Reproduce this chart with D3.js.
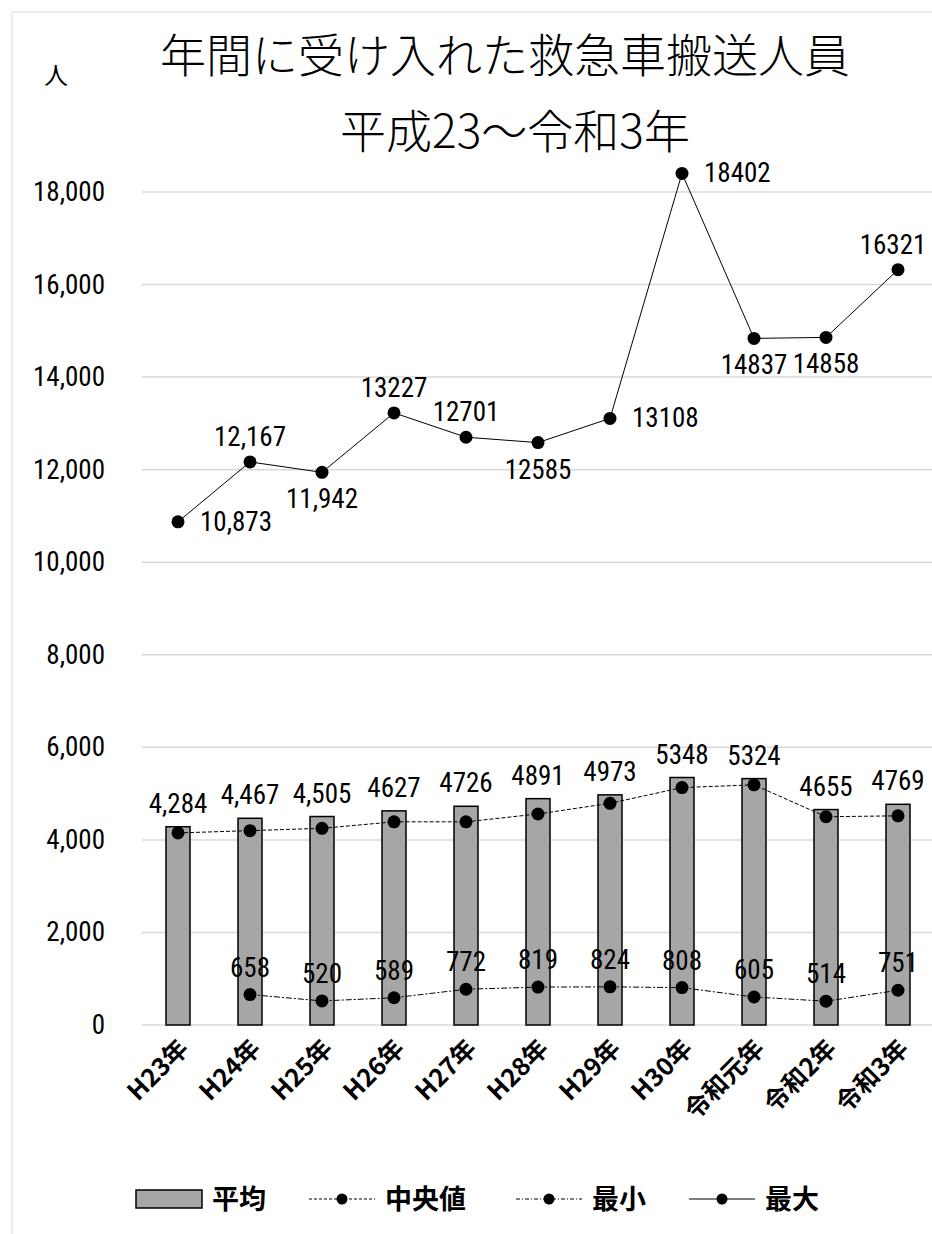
<!DOCTYPE html>
<html><head><meta charset="utf-8">
<script src="https://cdn.jsdelivr.net/npm/d3@7"></script>
<style>body{margin:0;background:#fff}text{font-family:"Noto Sans CJK JP","Noto Sans",sans-serif}.num{font-family:"Liberation Sans Narrow","Roboto Condensed","Noto Sans",sans-serif}</style>
</head><body><div id="chart"></div>
<script>
const years = ["H23年","H24年","H25年","H26年","H27年","H28年","H29年","H30年","令和元年","令和2年","令和3年"];
const meanVals = [4284,4467,4505,4627,4726,4891,4973,5348,5324,4655,4769];
const meanLabels = ["4,284","4,467","4,505","4627","4726","4891","4973","5348","5324","4655","4769"];
const medianVals = [4150,4200,4250,4390,4390,4560,4790,5130,5190,4500,4520];
const minVals = [null,658,520,589,772,819,824,808,605,514,751];
const maxVals = [10873,12167,11942,13227,12701,12585,13108,18402,14837,14858,16321];
const maxLabels = ["10,873","12,167","11,942","13227","12701","12585","13108","18402","14837","14858","16321"];
const maxPos = ["right","above","below","above","above","below","right","right","below","below","above"];
const yTicks = [0,2000,4000,6000,8000,10000,12000,14000,16000,18000];

const W = 932, H = 1234;
const svg = d3.select("#chart").append("svg").attr("width", W).attr("height", H);
svg.append("path").attr("d","M12,1234V12H932").attr("fill","none").attr("stroke","#d9d9d9");

const x = d3.scaleBand().domain(years).range([142, 934]);
const y = d3.scaleLinear().domain([0, 18000]).range([1025, 192]);
const cx = d => x(d) + x.bandwidth() / 2;
const FS = 27;

svg.append("g").selectAll("line").data(yTicks).join("line")
  .attr("x1", 142).attr("x2", 934).attr("y1", d => y(d)).attr("y2", d => y(d))
  .attr("stroke", "#d9d9d9").attr("stroke-width", 1.5);

svg.append("g").selectAll("text").data(yTicks).join("text").attr("class","num")
  .attr("x", 105).attr("y", d => y(d) + 9).attr("text-anchor", "end")
  .attr("font-size", FS).text(d3.format(","));

svg.append("text").attr("x", 56).attr("y", 84).attr("text-anchor","middle").attr("font-size", 24).text("人");
svg.append("text").attr("x", 505).attr("y", 72).attr("text-anchor","middle").attr("font-size", 46).attr("font-weight", 300).text("年間に受け入れた救急車搬送人員");
svg.append("text").attr("x", 515).attr("y", 148).attr("text-anchor","middle").attr("font-size", 46).attr("font-weight", 300).text("平成23〜令和3年");

// bars
const bw = 24;
svg.append("g").selectAll("rect").data(meanVals).join("rect")
  .attr("x", (d,i) => cx(years[i]) - bw/2).attr("y", d => y(d))
  .attr("width", bw).attr("height", d => y(0) - y(d))
  .attr("fill", "#a6a6a6").attr("stroke", "#000").attr("stroke-width", 1.5);
svg.append("g").selectAll("text").data(meanLabels).join("text").attr("class","num")
  .attr("x", (d,i) => cx(years[i])).attr("y", (d,i) => y(meanVals[i]) - 14)
  .attr("text-anchor","middle").attr("font-size", FS).text(d => d);

function series(vals, dash, width) {
  const pts = vals.map((v,i) => ({x: cx(years[i]), v})).filter(p => p.v != null);
  svg.append("path").datum(pts)
    .attr("d", d3.line().x(p => p.x).y(p => y(p.v)))
    .attr("fill","none").attr("stroke","#000").attr("stroke-width", width)
    .attr("stroke-dasharray", dash);
  svg.append("g").selectAll("circle").data(pts).join("circle")
    .attr("cx", p => p.x).attr("cy", p => y(p.v)).attr("r", 6.5).attr("fill","#000");
  return pts;
}
series(medianVals, "4,2", 1);
const minPts = series(minVals, "6,2,2,2", 1);
svg.append("g").selectAll("text").data(minPts).join("text").attr("class","num")
  .attr("x", p => p.x).attr("y", p => y(p.v) - 18).attr("text-anchor","middle")
  .attr("font-size", FS).text(p => p.v);
series(maxVals, null, 1);
svg.append("g").selectAll("text").data(maxLabels).join("text").attr("class","num")
  .attr("x", (d,i) => maxPos[i] === "right" ? cx(years[i]) + 22 : Math.min(cx(years[i]), 893))
  .attr("y", (d,i) => {
    const py = y(maxVals[i]);
    return maxPos[i] === "above" ? py - 16 : maxPos[i] === "below" ? py + 36 : py + 9;
  })
  .attr("text-anchor", (d,i) => maxPos[i] === "right" ? "start" : "middle")
  .attr("font-size", FS).text(d => d);

// x labels
svg.append("g").selectAll("text").data(years).join("text")
  .attr("transform", d => `translate(${cx(d)+12},${1050}) rotate(-45)`)
  .attr("text-anchor","end").attr("font-size", 25).attr("font-weight","bold").text(d => d);

// legend
const lg = svg.append("g").attr("transform","translate(0,1199)");
lg.append("rect").attr("x",136).attr("y",-9).attr("width",66).attr("height",18).attr("fill","#a6a6a6").attr("stroke","#000").attr("stroke-width",1.5);
lg.append("text").attr("x",212).attr("y",10).attr("font-size",27).attr("font-weight","bold").text("平均");
const legItems = [{x:309, dash:"3,2", t:"中央値"},{x:516, dash:"4,2,1,2", t:"最小"},{x:689, dash:null, t:"最大"}];
legItems.forEach(it => {
  lg.append("line").attr("x1",it.x).attr("x2",it.x+66).attr("stroke","#000").attr("stroke-dasharray",it.dash);
  lg.append("circle").attr("cx",it.x+33).attr("r",5.5);
  lg.append("text").attr("x",it.x+76).attr("y",10).attr("font-size",27).attr("font-weight","bold").text(it.t);
});
</script></body></html>
